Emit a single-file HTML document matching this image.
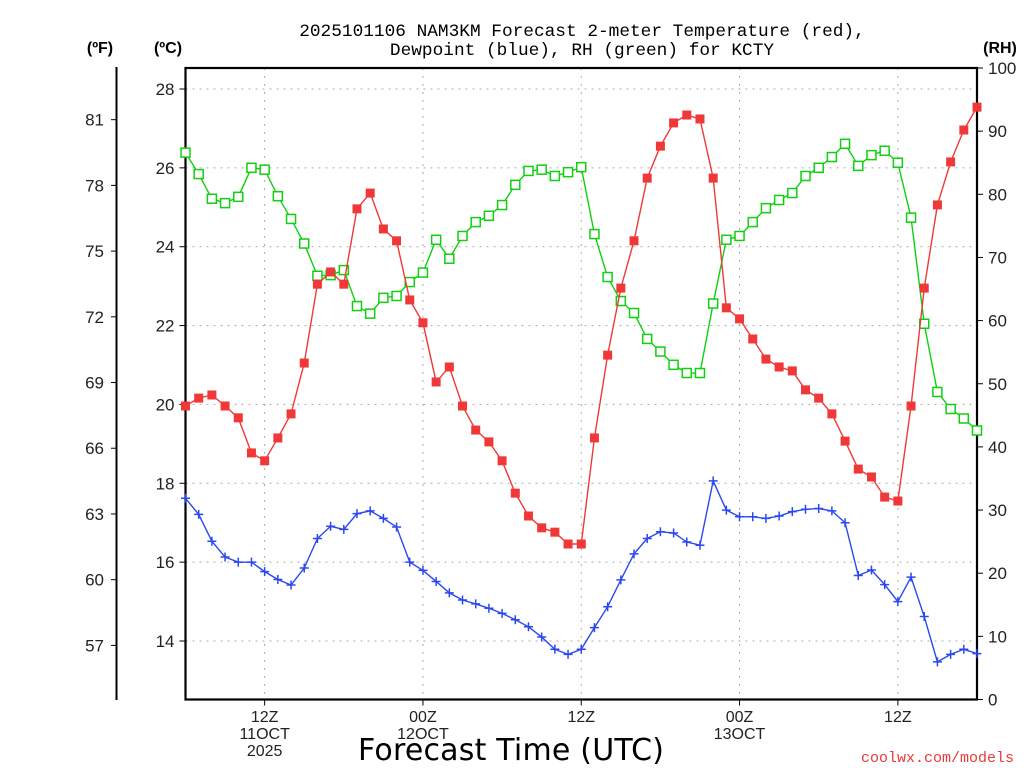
<!DOCTYPE html>
<html><head><meta charset="utf-8"><style>
html,body{margin:0;padding:0;background:#fff;}
svg{display:block;font-family:"Liberation Sans",sans-serif;}
</style></head><body>
<svg id="chart" width="1024" height="768" viewBox="0 0 1024 768">
<text x="582" y="36" text-anchor="middle" font-size="17.8" fill="#000" font-family="'Liberation Mono',monospace">2025101106 NAM3KM Forecast 2-meter Temperature (red),</text>
<text x="582" y="55" text-anchor="middle" font-size="17.8" fill="#000" font-family="'Liberation Mono',monospace">Dewpoint (blue), RH (green) for KCTY</text>
<text x="100" y="53" text-anchor="middle" font-size="16" font-weight="bold">(ºF)</text>
<text x="168" y="53" text-anchor="middle" font-size="16" font-weight="bold">(ºC)</text>
<text x="1000" y="53" text-anchor="middle" font-size="16" font-weight="bold">(RH)</text>
<text x="511" y="760" text-anchor="middle" font-size="30" font-family="'DejaVu Sans',sans-serif" textLength="306">Forecast Time (UTC)</text>
<text x="1014" y="762" text-anchor="end" font-size="15" fill="#e83a3a" font-family="'Liberation Mono',monospace">coolwx.com/models</text>
<g id="grid"></g>
<g id="axes"></g>
<g id="series"></g>
</svg>
<script>
const hours = Array.from({length:61},(_,i)=>i); // forecast hours from 06Z 11OCT
const tempC = [19.96,20.16,20.24,19.96,19.66,18.77,18.57,19.15,19.76,21.05,23.05,23.36,23.05,24.96,25.36,24.45,24.15,22.65,22.07,20.57,20.95,19.96,19.35,19.05,18.57,17.75,17.17,16.87,16.76,16.46,16.46,19.15,21.25,22.95,24.15,25.74,26.55,27.14,27.34,27.24,25.74,22.45,22.17,21.66,21.15,20.95,20.85,20.37,20.16,19.76,19.07,18.36,18.16,17.65,17.55,19.96,22.95,25.06,26.15,26.96,27.54];
const dewC = [17.62,17.21,16.53,16.13,16.00,16.00,15.76,15.56,15.42,15.85,16.60,16.91,16.83,17.23,17.30,17.11,16.89,16.00,15.79,15.51,15.22,15.04,14.94,14.83,14.70,14.54,14.36,14.10,13.79,13.66,13.79,14.34,14.87,15.55,16.21,16.60,16.77,16.74,16.51,16.43,18.06,17.32,17.15,17.15,17.11,17.17,17.28,17.34,17.36,17.30,17.00,15.66,15.80,15.43,15.00,15.62,14.62,13.47,13.66,13.79,13.68];
const rh = [86.6,83.2,79.3,78.6,79.6,84.2,83.9,79.7,76.1,72.2,67.1,67.2,68.0,62.3,61.1,63.6,63.9,66.1,67.6,72.8,69.8,73.4,75.6,76.6,78.3,81.5,83.7,83.9,82.9,83.5,84.3,73.7,66.9,63.1,61.2,57.1,55.1,53.0,51.7,51.7,62.7,72.8,73.4,75.6,77.8,79.1,80.2,82.9,84.2,85.9,88.0,84.5,86.2,86.9,85.0,76.3,59.5,48.7,46.0,44.5,42.6];
const cTicks = [14,16,18,20,22,24,26,28];
const fTicks = [57,60,63,66,69,72,75,78,81];
const rhTicks = [0,10,20,30,40,50,60,70,80,90,100];
const xTickHours = [6,18,30,42,54];
const xTickLabels = [["12Z","11OCT","2025"],["00Z","12OCT"],["12Z"],["00Z","13OCT"],["12Z"]];

const L=185.5,R=977,T=68,B=699.5;
const xS=h=>L+(h/60)*(R-L);
const yC=c=>89+(28-c)*(552/14);
const yF=f=>yC((f-32)*5/9);
const yRH=v=>B-(v/100)*(B-T);
const NS="http://www.w3.org/2000/svg";
function mk(tag,attrs,parent){const e=document.createElementNS(NS,tag);for(const k in attrs)e.setAttribute(k,attrs[k]);parent.appendChild(e);return e;}
const grid=document.getElementById('grid'),axes=document.getElementById('axes'),ser=document.getElementById('series');

cTicks.forEach(c=>{
  const y=yC(c);
  const g=mk('line',{x1:L,x2:R,y1:y,y2:y,stroke:'#aaa','stroke-dasharray':'2 5'},grid);
  
  
  const t=mk('line',{x1:L-6,x2:L,y1:y,y2:y,stroke:'#000'},axes);
  
  
  const tx=mk('text',{x:L-11,y:y+6,'text-anchor':'end','font-size':17,fill:'#222'},axes);
  tx.textContent=c;
  
  
});
xTickHours.forEach((h,i)=>{
  const x=xS(h);
  const g=mk('line',{x1:x,x2:x,y1:T,y2:B,stroke:'#aaa','stroke-dasharray':'2 6'},grid);
  
  
  const t=mk('line',{x1:x,x2:x,y1:B,y2:B+6,stroke:'#000'},axes);
  
  
  xTickLabels[i].forEach((s,j)=>{
    const tx=mk('text',{x:x,y:722+j*17,'text-anchor':'middle','font-size':16,fill:'#222'},axes);
    tx.textContent=s;
    
    
  });
});
const fl=mk('line',{x1:116.5,x2:116.5,y1:67,y2:700,stroke:'#000','stroke-width':2},axes);


fTicks.forEach(f=>{
  const y=yF(f);
  const t=mk('line',{x1:111,x2:116,y1:y,y2:y,stroke:'#000'},axes);
  
  
  const tx=mk('text',{x:104,y:y+6,'text-anchor':'end','font-size':17,fill:'#222'},axes);
  tx.textContent=f;
  
  
});
rhTicks.forEach(v=>{
  const y=yRH(v);
  const t=mk('line',{x1:R,x2:R+6,y1:y,y2:y,stroke:'#000'},axes);
  
  
  const tx=mk('text',{x:988,y:y+6,'text-anchor':'start','font-size':17,fill:'#222'},axes);
  tx.textContent=v;
  
  
});
const frame=mk('rect',{x:L,y:T,width:R-L,height:B-T,fill:'none',stroke:'#000','stroke-width':2.2},axes);



function series(vals,yf,color,kind,name){
  const pts=vals.map((v,i)=>[xS(hours[i]),yf(v)]);
  const pl=mk('polyline',{points:pts.map(p=>p.join(',')).join(' '),fill:'none',stroke:color,'stroke-width':1.4},ser);
  
  
  pts.forEach(([x,y])=>{
    let m;
    if(kind==='fill'){m=mk('rect',{x:x-4.5,y:y-4.5,width:9,height:9,fill:color},ser);}
    else if(kind==='open'){m=mk('rect',{x:x-4.5,y:y-4.5,width:9,height:9,fill:'#fff',stroke:color,'stroke-width':1.5},ser);}
    else{m=mk('path',{d:`M${x-4.5},${y}H${x+4.5}M${x},${y-4.5}V${y+4.5}`,stroke:color,'stroke-width':1.5},ser);}
    
    
  });
}
series(rh,yRH,'#10d010','open','rh');
series(tempC,yC,'#f03838','fill','temperature');
series(dewC,yC,'#2a48f0','plus','dewpoint');
</script>
</body></html>
